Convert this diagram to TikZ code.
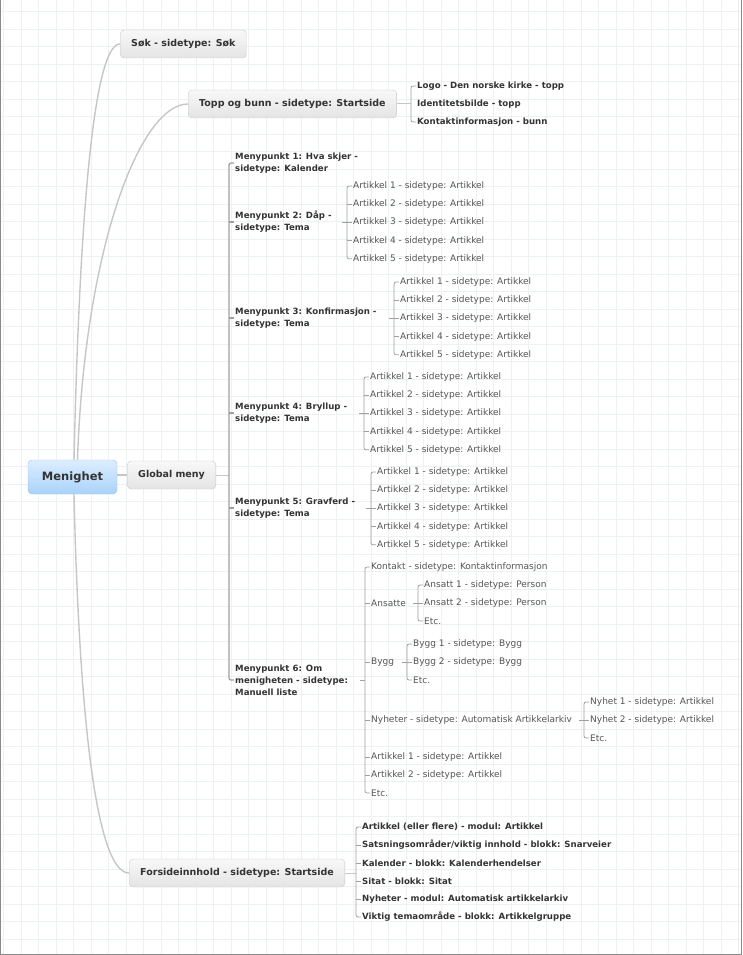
\documentclass[tikz,border=0pt]{standalone}
\usepackage{fontspec}
\setmainfont{DejaVu Sans}
\usetikzlibrary{positioning,calc}
\definecolor{gridcol}{HTML}{EDF1F1}
\definecolor{framecol}{HTML}{8A8A8A}
\definecolor{curvecol}{HTML}{C6C6C6}
\definecolor{brcol}{HTML}{A0A0A0}
\definecolor{rootline}{HTML}{98C4EC}
\definecolor{roottop}{HTML}{DCEEFF}
\definecolor{rootbot}{HTML}{A9D2FA}
\definecolor{boxline}{HTML}{C8C8C8}
\definecolor{boxtop}{HTML}{F8F8F8}
\definecolor{boxbot}{HTML}{E4E4E4}
\definecolor{darktext}{HTML}{333333}
\definecolor{graytext}{HTML}{555555}

\begin{document}
\begin{tikzpicture}[x=1pt,y=-1pt]
  \tikzstyle{rootbox}=[draw=rootline,rounded corners=4pt,top color=roottop,bottom color=rootbot,minimum width=89pt,minimum height=34pt,font=\fontsize{11.5}{14}\selectfont\bfseries,text=darktext]
  \tikzstyle{topic}=[draw=boxline,rounded corners=4pt,top color=boxtop,bottom color=boxbot,minimum height=28pt,inner xsep=11pt,anchor=west,font=\fontsize{9.5}{12}\selectfont\bfseries,text=darktext]
  \tikzstyle{sub}=[anchor=west,inner sep=1pt,align=left,font=\fontsize{8.6}{12}\selectfont\bfseries,text=darktext]
  \tikzstyle{leaf}=[anchor=west,inner sep=1pt,font=\fontsize{9}{12}\selectfont,text=graytext]
  \tikzstyle{curve}=[draw=curvecol,line width=1.4pt]
  \tikzstyle{br}=[draw=brcol,line width=0.8pt]
  \tikzstyle{brk}=[br,rounded corners=2pt]

  % paper with grid
  \useasboundingbox (0,0) rectangle (742,955);
  \foreach \gx in {3.3,20.8,...,742} \draw[gridcol,line width=0.6pt] (\gx,0) -- (\gx,955);
  \foreach \gy in {11.7,29.2,...,955} \draw[gridcol,line width=0.6pt] (0,\gy) -- (742,\gy);
  \draw[framecol,line width=1.4pt] (0.7,0) -- (0.7,954.3) -- (741.3,954.3) -- (741.3,0);

  % main topics
  \node[rootbox] (root) at (72.5,477) {Menighet};
  \node[topic] (sok) at (120,44) {Søk - sidetype: Søk};
  \node[topic] (topp) at (188,104) {Topp og bunn - sidetype: Startside};
  \node[topic] (glob) at (127,475) {Global meny};
  \node[topic] (forside) at (129,873) {Forsideinnhold - sidetype: Startside};
  \draw[curve] ([xshift=1.5pt]root.north) .. controls +(6,-261) and +(-25,0) .. (sok.west);
  \draw[curve] ([xshift=5pt]root.north) .. controls +(7,-211) and +(-48,0) .. (topp.west);
  \draw[curve] ([xshift=1.5pt]root.south) .. controls +(6,255) and +(-29,0) .. (forside.west);
  \draw[curve] (root.east |- glob.west) -- (glob.west);

  % topp og bunn
  \node[sub] (t1) at (416,86) {Logo - Den norske kirke - topp};
  \node[sub] (t2) at (416,104) {Identitetsbilde - topp};
  \node[sub] (t3) at (416,122) {Kontaktinformasjon - bunn};
  \draw[curve,line width=1pt] (topp.east) -- ([xshift=-5pt]t2.west);
  \draw[brk] (t1.west) -- ++(-5,0) |- (t3.west);

  % global meny
  \node[sub] (m1) at (234,163) {Menypunkt 1: Hva skjer -\\sidetype: Kalender};
  \node[sub] (m2) at (234,222) {Menypunkt 2: Dåp -\\sidetype: Tema};
  \node[sub] (m3) at (234,318) {Menypunkt 3: Konfirmasjon -\\sidetype: Tema};
  \node[sub] (m4) at (234,413) {Menypunkt 4: Bryllup -\\sidetype: Tema};
  \node[sub] (m5) at (234,508) {Menypunkt 5: Gravferd -\\sidetype: Tema};
  \node[sub] (m6) at (234,680) {Menypunkt 6: Om\\menigheten - sidetype:\\Manuell liste};
  \draw[curve,line width=1pt] (glob.east) -- ([xshift=-5pt]m1.west |- glob.east);
  \draw[brk,line width=1.2pt] (m1.west) -- ++(-5,0) |- (m6.west);
  \foreach \k in {2,...,5} \draw[br,line width=1.2pt] (m\k.west) -- ++(-5,0);

  % artikler under menypunkt 2-5
  \foreach \i in {1,...,5} {
    \node[leaf] (a2\i) at (352,{167.8+18.2*\i}) {Artikkel \i{} - sidetype: Artikkel};
    \node[leaf] (a3\i) at (399,{263.8+18.2*\i}) {Artikkel \i{} - sidetype: Artikkel};
    \node[leaf] (a4\i) at (369,{358.8+18.2*\i}) {Artikkel \i{} - sidetype: Artikkel};
    \node[leaf] (a5\i) at (376,{453.8+18.2*\i}) {Artikkel \i{} - sidetype: Artikkel};
  }
  \foreach \g in {2,...,5} {
    \draw[brk] (a\g1.west) -- ++(-5,0) |- (a\g5.west);
    \foreach \i in {2,3,4} \draw[br] (a\g\i.west) -- ++(-5,0);
    \draw[br] ([xshift=-10pt]a\g1.west |- m\g.east) -- ([xshift=-5pt]a\g1.west |- m\g.east);
  }

  % menypunkt 6
  \node[leaf] (kont) at (370,567) {Kontakt - sidetype: Kontaktinformasjon};
  \node[leaf] (ans) at (370,603) {Ansatte};
  \node[leaf] (byg) at (370,662) {Bygg};
  \node[leaf] (nyh) at (370,720) {Nyheter - sidetype: Automatisk Artikkelarkiv};
  \node[leaf] (ar1) at (370,757) {Artikkel 1 - sidetype: Artikkel};
  \node[leaf] (ar2) at (370,775) {Artikkel 2 - sidetype: Artikkel};
  \node[leaf] (etc) at (370,793) {Etc.};
  \draw[brk] (kont.west) -- ++(-5,0) |- (etc.west);
  \foreach \n in {ans,byg,nyh,ar1,ar2} \draw[br] (\n.west) -- ++(-5,0);
  \draw[br] ([xshift=-10pt]kont.west |- m6.east) -- ([xshift=-5pt]kont.west |- m6.east);

  \node[leaf] (ans1) at (423,585) {Ansatt 1 - sidetype: Person};
  \node[leaf] (ans2) at (423,603) {Ansatt 2 - sidetype: Person};
  \node[leaf] (ans3) at (423,621) {Etc.};
  \draw[brk] (ans1.west) -- ++(-5,0) |- (ans3.west);
  \draw[br] ([xshift=-10pt]ans2.west) -- (ans2.west);

  \node[leaf] (byg1) at (412,644) {Bygg 1 - sidetype: Bygg};
  \node[leaf] (byg2) at (412,662) {Bygg 2 - sidetype: Bygg};
  \node[leaf] (byg3) at (412,680) {Etc.};
  \draw[brk] (byg1.west) -- ++(-5,0) |- (byg3.west);
  \draw[br] ([xshift=-10pt]byg2.west) -- (byg2.west);

  \node[leaf] (nyh1) at (589,702) {Nyhet 1 - sidetype: Artikkel};
  \node[leaf] (nyh2) at (589,720) {Nyhet 2 - sidetype: Artikkel};
  \node[leaf] (nyh3) at (589,738) {Etc.};
  \draw[brk] (nyh1.west) -- ++(-5,0) |- (nyh3.west);
  \draw[br] ([xshift=-10pt]nyh2.west) -- (nyh2.west);

  % forsideinnhold
  \node[sub] (f1) at (361,827) {Artikkel (eller flere) - modul: Artikkel};
  \node[sub] (f2) at (361,845) {Satsningsområder/viktig innhold - blokk: Snarveier};
  \node[sub] (f3) at (361,863) {Kalender - blokk: Kalenderhendelser};
  \node[sub] (f4) at (361,881) {Sitat - blokk: Sitat};
  \node[sub] (f5) at (361,899) {Nyheter - modul: Automatisk artikkelarkiv};
  \node[sub] (f6) at (361,917) {Viktig temaområde - blokk: Artikkelgruppe};
  \draw[curve,line width=1pt] (forside.east) -- ([xshift=-5pt]f1.west |- forside.east);
  \draw[brk] (f1.west) -- ++(-5,0) |- (f6.west);
  \foreach \k in {2,...,5} \draw[br] (f\k.west) -- ++(-5,0);
\end{tikzpicture}
\end{document}
